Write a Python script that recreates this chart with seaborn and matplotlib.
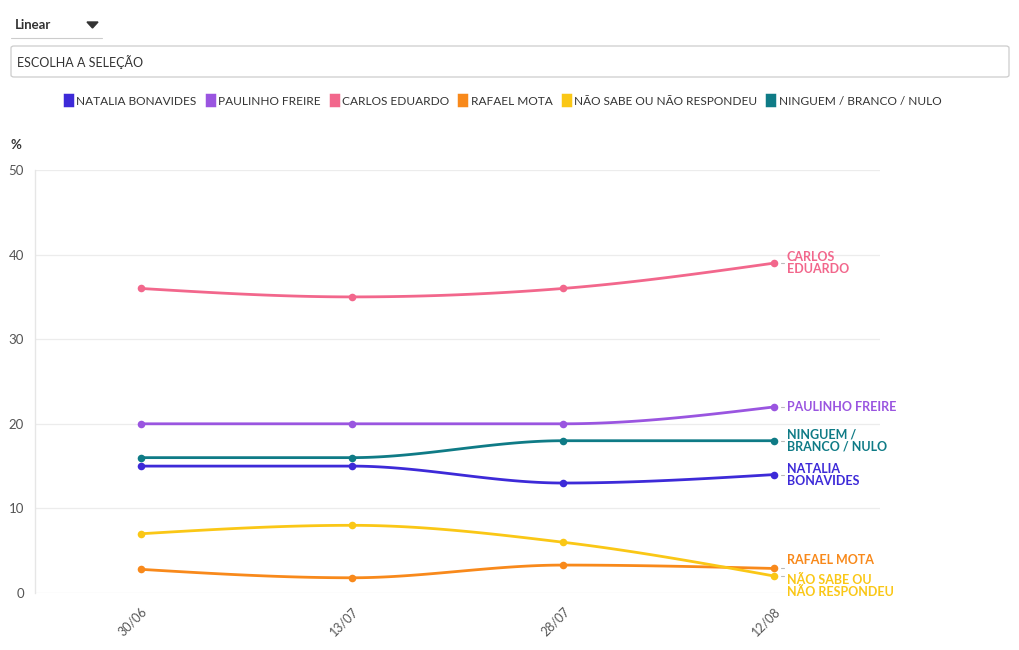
import numpy as np
import pandas as pd
import matplotlib
matplotlib.use("Agg")
import matplotlib.pyplot as plt
import matplotlib.patches as mpatches
import seaborn as sns

dates = ["30/06", "13/07", "28/07", "12/08"]
series_names = ["NATALIA BONAVIDES", "PAULINHO FREIRE", "CARLOS EDUARDO",
                "RAFAEL MOTA", "NÃO SABE OU NÃO RESPONDEU", "NINGUEM / BRANCO / NULO"]
natalia = [15, 15, 13, 14]
paulinho = [20, 20, 20, 22]
carlos = [36, 35, 36, 39]
rafael = [2.8, 1.8, 3.3, 2.9]
nao_sabe = [7, 8, 6, 2]
ninguem = [16, 16, 18, 18]
end_labels = ["NATALIA\nBONAVIDES", "PAULINHO FREIRE", "CARLOS\nEDUARDO",
              "RAFAEL MOTA", "NÃO SABE OU\nNÃO RESPONDEU", "NINGUEM /\nBRANCO / NULO"]
colors = ["#3d2ad8", "#9a55e0", "#f2678c", "#f8891b", "#fac716", "#0f7b86"]
y_ticks = [0, 10, 20, 30, 40, 50]

values = [natalia, paulinho, carlos, rafael, nao_sabe, ninguem]
# label pixel offsets (points) relative to last point, to avoid overlaps
label_dy = [0, 0, 0, 5.8, -6.8, 0]

sns.set_theme(style="white")
plt.rcParams['font.family'] = ['Lato', 'DejaVu Sans']


def monotone_curve(y, n=40):
    """d3-style monotoneX cubic interpolation on equally spaced x."""
    y = np.asarray(y, dtype=float)
    x = np.arange(len(y), dtype=float)
    h = np.diff(x)
    s = np.diff(y) / h
    m = np.zeros(len(y))
    for i in range(1, len(y) - 1):
        s0, s1 = s[i - 1], s[i]
        p = (s0 * h[i] + s1 * h[i - 1]) / (h[i - 1] + h[i])
        m[i] = (np.sign(s0) + np.sign(s1)) * min(abs(s0), abs(s1), 0.5 * abs(p))
    m[0] = (3 * s[0] - m[1]) / 2
    m[-1] = (3 * s[-1] - m[-2]) / 2
    xs, ys = [], []
    for i in range(len(y) - 1):
        t = np.linspace(0, 1, n, endpoint=(i == len(y) - 2))
        h00 = 2 * t**3 - 3 * t**2 + 1
        h10 = t**3 - 2 * t**2 + t
        h01 = -2 * t**3 + 3 * t**2
        h11 = t**3 - t**2
        xs.append(x[i] + t * h[i])
        ys.append(h00 * y[i] + h10 * h[i] * m[i] + h01 * y[i + 1] + h11 * h[i] * m[i + 1])
    return np.concatenate(xs), np.concatenate(ys)


fig = plt.figure(figsize=(10.2, 6.5), dpi=100)
W, H = 1020, 650
ax = fig.add_axes([35 / W, 57 / H, (880 - 35) / W, (593 - 170) / H])

for name, vals, col in zip(series_names, values, colors):
    xs, ys = monotone_curve(vals)
    dense = pd.DataFrame({"x": xs, "y": ys})
    sns.lineplot(data=dense, x="x", y="y", ax=ax, color=col, linewidth=2.0,
                 sort=False, estimator=None, legend=False)
    pts = pd.DataFrame({"x": np.arange(len(vals)), "y": vals})
    sns.scatterplot(data=pts, x="x", y="y", ax=ax, color=col, s=30,
                    edgecolor=col, linewidth=0, legend=False, zorder=5)

ax.set_xlim(-0.5, 3.5)
ax.set_ylim(0, 50)
ax.set_xticks(range(len(dates)))
ax.set_xticklabels(dates, rotation=45, ha="right", rotation_mode="anchor",
                   fontsize=9, color="#555555")
ax.set_yticks(y_ticks)
ax.set_yticklabels([str(v) for v in y_ticks], fontsize=9.5, color="#555555")
ax.tick_params(axis="x", length=5, color="#dddddd", pad=4)
ax.tick_params(axis="y", length=5, color="#dddddd", pad=3)
ax.set_xlabel("")
ax.set_ylabel("")
for sp in ["top", "right", "bottom"]:
    ax.spines[sp].set_visible(False)
ax.spines["left"].set_color("#e6e6e6")
ax.spines["left"].set_linewidth(1)
ax.yaxis.grid(True, color="#ececec", linewidth=0.9)
ax.xaxis.grid(False)
ax.set_axisbelow(True)

# end labels
for lab, vals, col, dy in zip(end_labels, values, colors, label_dy):
    ax.annotate(lab, xy=(3, vals[-1]), xytext=(9, dy), textcoords="offset points",
                ha="left", va="center", fontsize=9, fontweight="bold", color=col,
                linespacing=1.0, annotation_clip=False)
    ax.plot([3.03, 3.045], [vals[-1], vals[-1]], color="#bbbbbb", lw=0.8,
            clip_on=False)

# % label
fig.text(11 / W, 1 - 145 / H, "%", fontsize=9.5, fontweight="bold",
         color="#333333", va="center", ha="left")

# top controls
fig.text(15 / W, 1 - 25 / H, "Linear", fontsize=9.5, fontweight="bold",
         color="#333333", va="center", ha="left")
tri = mpatches.Polygon([[87 / W, 1 - 22 / H], [98 / W, 1 - 22 / H], [92.5 / W, 1 - 28 / H]],
                       closed=True, transform=fig.transFigure, color="#333333")
fig.patches.append(tri)
fig.add_artist(plt.Line2D([11 / W, 102 / W], [1 - 38 / H, 1 - 38 / H],
                          transform=fig.transFigure, color="#cccccc", lw=0.8))
box = mpatches.FancyBboxPatch((11 / W, 1 - 77 / H), (1009 - 11) / W, 31 / H,
                              boxstyle="round,pad=0,rounding_size=0.003",
                              transform=fig.transFigure, facecolor="white",
                              edgecolor="#cccccc", lw=0.9)
fig.patches.append(box)
fig.text(17 / W, 1 - 62 / H, "ESCOLHA A SELEÇÃO", fontsize=9, color="#333333",
         va="center", ha="left")

# legend
handles = [mpatches.Patch(facecolor=c, edgecolor=c, linewidth=2.5, joinstyle="round")
           for c in colors]
fig.legend(handles, series_names, loc="center", bbox_to_anchor=(503 / W, 1 - 101 / H),
           ncol=6, frameon=False, handlelength=0.6, handleheight=0.9,
           handletextpad=0.35, columnspacing=0.85, fontsize=8.6,
           labelcolor="#333333")

fig.savefig("out.png", dpi=100)
